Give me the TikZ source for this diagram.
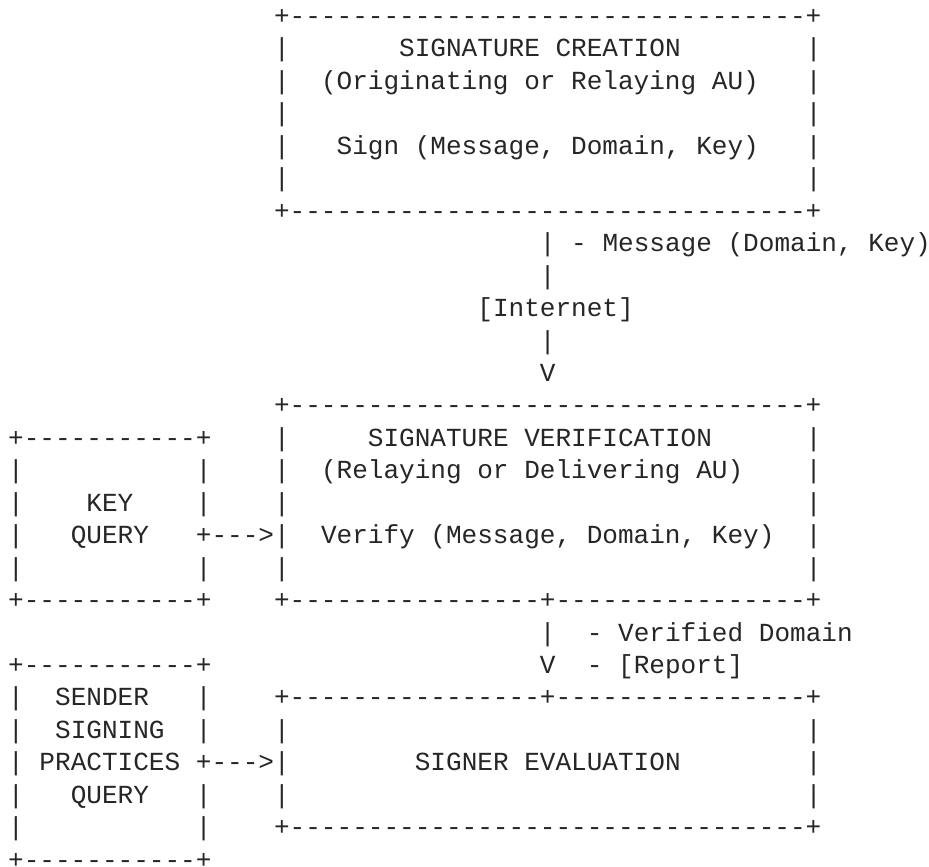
\documentclass[tikz,border=0pt]{standalone}
\usepackage{fontspec}
\setmonofont{Liberation Mono}
\newcommand{\dten}{----------}
\begin{document}
\begin{tikzpicture}[
            x=15.64pt, y=-32.45pt,
            txt/.style={anchor=base west, inner sep=0pt, outer sep=0pt,
                font=\ttfamily\fontsize{26.06}{32.45}\selectfont, text=black!85}
        ]
        \useasboundingbox (-8.2pt,24.5pt) rectangle (920.8pt,-842.5pt);
        % signature creation
        \node[txt] (cr-top) at (17,0) {+\dten\dten\dten---+};
        \foreach \r in {1,...,5} {
            \node[txt] (cr-l\r) at (17,\r) {|};
            \node[txt] (cr-r\r) at (51,\r) {|};
        }
        \node[txt] (cr-title) at (25,1) {SIGNATURE CREATION};
        \node[txt] (cr-role) at (20,2) {(Originating or Relaying AU)};
        \node[txt] (cr-sign) at (21,4) {Sign (Message, Domain, Key)};
        \node[txt] (cr-bot) at (17,6) {+\dten\dten\dten---+};
        % internet
        \node[txt] (net-a) at (34,7) {|};
        \node[txt] (net-msg) at (36,7) {- Message (Domain, Key)};
        \node[txt] (net-b) at (34,8) {|};
        \node[txt] (net) at (30,9) {[Internet]};
        \node[txt] (net-c) at (34,10) {|};
        \node[txt] (net-tip) at (34,11) {V};
        % signature verification
        \node[txt] (ve-top) at (17,12) {+\dten\dten\dten---+};
        \foreach \r in {13,14,15,17} {
            \node[txt] (ve-l\r) at (17,\r) {|};
        }
        \foreach \r in {13,...,17} {
            \node[txt] (ve-r\r) at (51,\r) {|};
        }
        \node[txt] (ve-title) at (23,13) {SIGNATURE VERIFICATION};
        \node[txt] (ve-role) at (20,14) {(Relaying or Delivering AU)};
        \node[txt] (ve-verify) at (20,16) {Verify (Message, Domain, Key)};
        \node[txt] (ve-bot) at (17,18) {+\dten------+\dten------+};
        % key query
        \node[txt] (kq-top) at (0,13) {+\dten-+};
        \foreach \r in {14,...,17} {
            \node[txt] (kq-l\r) at (0,\r) {|};
        }
        \foreach \r in {14,15,17} {
            \node[txt] (kq-r\r) at (12,\r) {|};
        }
        \node[txt] (kq-a) at (5,15) {KEY};
        \node[txt] (kq-b) at (4,16) {QUERY};
        \node[txt] (kq-arrow) at (12,16) {+--->|};
        \node[txt] (kq-bot) at (0,18) {+\dten-+};
        % result
        \node[txt] (res-a) at (34,19) {|};
        \node[txt] (res-dom) at (37,19) {- Verified Domain};
        \node[txt] (res-tip) at (34,20) {V};
        \node[txt] (res-rep) at (37,20) {- [Report]};
        % signer evaluation
        \node[txt] (ev-top) at (17,21) {+\dten------+\dten------+};
        \foreach \r in {22,24} {
            \node[txt] (ev-l\r) at (17,\r) {|};
        }
        \foreach \r in {22,23,24} {
            \node[txt] (ev-r\r) at (51,\r) {|};
        }
        \node[txt] (ev-title) at (26,23) {SIGNER EVALUATION};
        \node[txt] (ev-bot) at (17,25) {+\dten\dten\dten---+};
        % sender signing practices query
        \node[txt] (sp-top) at (0,20) {+\dten-+};
        \foreach \r in {21,...,25} {
            \node[txt] (sp-l\r) at (0,\r) {|};
        }
        \foreach \r in {21,22,24,25} {
            \node[txt] (sp-r\r) at (12,\r) {|};
        }
        \node[txt] (sp-a) at (3,21) {SENDER};
        \node[txt] (sp-b) at (3,22) {SIGNING};
        \node[txt] (sp-c) at (2,23) {PRACTICES};
        \node[txt] (sp-d) at (4,24) {QUERY};
        \node[txt] (sp-arrow) at (12,23) {+--->|};
        \node[txt] (sp-bot) at (0,26) {+\dten-+};
    \end{tikzpicture}
\end{document}
